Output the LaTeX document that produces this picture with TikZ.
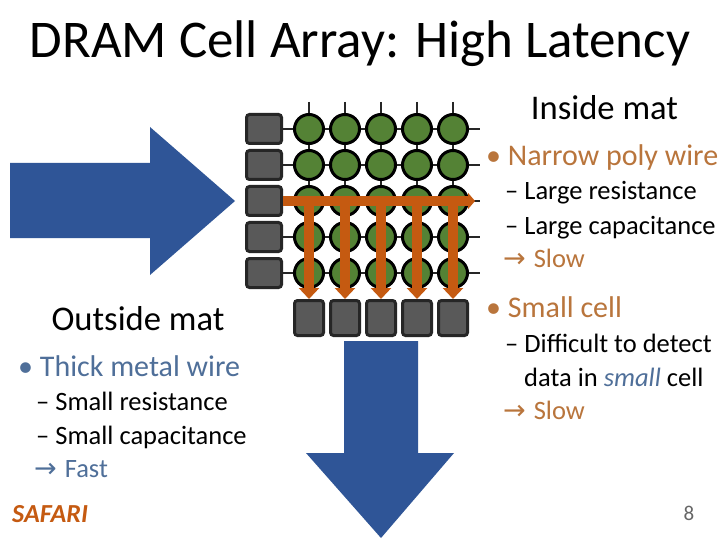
\documentclass[tikz,border=0pt]{standalone}
\usepackage{fontspec}
\setmainfont{Carlito}
\newfontfamily\arrowfont{DejaVu Sans}
\usetikzlibrary{arrows.meta}
\definecolor{ored}{HTML}{C55A11}
\definecolor{otxt}{HTML}{B9753C}
\definecolor{bluea}{HTML}{2F5597}
\definecolor{bluet}{HTML}{4F6F99}
\definecolor{greenc}{HTML}{548235}
\definecolor{greyc}{HTML}{595959}
\definecolor{edgec}{HTML}{262626}
\tikzset{
  cell/.style={circle,draw=black,line width=3pt,fill=greenc,minimum size=29pt,inner sep=0pt},
  wire/.style={draw=edgec,line width=2.5pt},
  sqr/.style={rectangle,rounded corners=3pt,draw=edgec,line width=3pt,fill=greyc,inner sep=0pt},
  leftsq/.style={sqr,minimum width=35pt,minimum height=29pt},
  botsq/.style={sqr,minimum width=29pt,minimum height=35pt},
  bigarrow/.style={fill=bluea,draw=none},
  orangearrow/.style={draw=ored,line width=10.5pt,-{Triangle[length=11pt,width=20pt]}},
  horizarrow/.style={draw=ored,line width=10.5pt,-{Triangle[length=7pt,width=16pt]}},
  txt/.style={inner sep=0pt,anchor=base west,text=black},
  sub/.style={txt,font=\fontsize{26.5}{26.5}\selectfont},
  head/.style={txt,font=\fontsize{30}{30}\selectfont},
  mat/.style={inner sep=0pt,anchor=base,font=\fontsize{34.6}{34.6}\selectfont},
}
\newcommand{\implarrow}{{\arrowfont\fontsize{27}{27}\selectfont →}\hspace{2pt}}
\begin{document}
\begin{tikzpicture}[x=1pt,y=-1pt]
\useasboundingbox (0,0) rectangle (720,540);
\fill[white] (0,0) rectangle (720,540);
% blue arrows
\fill[bigarrow] (10,163) -- (150,163) -- (150,127) -- (235,201) -- (150,275) -- (150,238) -- (10,238) -- cycle;
\fill[bigarrow] (344,341) -- (418,341) -- (418,453) -- (454,453) -- (381,538) -- (306,453) -- (344,453) -- cycle;
% grid coordinates and wires
\foreach \c/\x in {1/309,2/345,3/381,4/417,5/453}{
  \coordinate (top\c) at (\x,102);
  \node[botsq] (bot\c) at (\x,318) {};
}
\foreach \r/\y in {1/129,2/165,3/201,4/237,5/273}{
  \coordinate (rgt\r) at (480,\y);
  \node[leftsq] (lft\r) at (264,\y) {};
}
\foreach \r/\y in {1/129,2/165,3/201,4/237,5/273}{
  \draw[wire] (lft\r.east) -- (rgt\r);
}
\foreach \c/\x in {1/309,2/345,3/381,4/417,5/453}{
  \draw[wire] (top\c) -- (\x,273);
}
\foreach \c/\x in {1/309,2/345,3/381,4/417,5/453}{
  \foreach \r/\y in {1/129,2/165,3/201,4/237,5/273}{
    \node[cell] (c\r\c) at (\x,\y) {};
  }
}
% orange arrows
\foreach \c in {1,...,5}{
  \draw[orangearrow] (c3\c.center) -- (bot\c.north);
}
\draw[horizarrow,shorten >=5pt] (lft3.east) -- (rgt3);
% texts
\node[inner sep=0pt,anchor=base] (title) at (360,58) {\fontsize{53}{53}\selectfont DRAM Cell Array: High Latency};
\node[mat] (inside) at (604.5,120) {Inside mat};
\node[head,text=otxt] (b1) at (486,166) {• Narrow poly wire};
\node[sub] (s1) at (505,200) {– Large resistance};
\node[sub] (s2) at (505,234) {– Large capacitance};
\node[sub,text=otxt] (s3) at (503,267) {\implarrow\ Slow};
\node[head,text=otxt] (b2) at (486,317) {• Small cell};
\node[sub] (s4) at (505,352) {– Difficult to detect};
\node[sub] (s5) at (524,386) {data in \textcolor{bluet}{\itshape small} cell};
\node[sub,text=otxt] (s6) at (503,419) {\implarrow\ Slow};
\node[mat] (outside) at (138,330) {Outside mat};
\node[head,text=bluet] (b3) at (18,376) {• Thick metal wire};
\node[sub] (s7) at (36,410) {– Small resistance};
\node[sub] (s8) at (36,444) {– Small capacitance};
\node[sub,text=bluet] (s9) at (34,477) {\implarrow\ Fast};
\node[txt,text=ored] (safari) at (12,522) {\fontsize{26}{26}\selectfont\bfseries\itshape SAFARI};
\node[inner sep=0pt,anchor=base] (pg) at (689,520) {\textcolor{black!60}{\fontsize{21}{21}\selectfont 8}};
\end{tikzpicture}
\end{document}
